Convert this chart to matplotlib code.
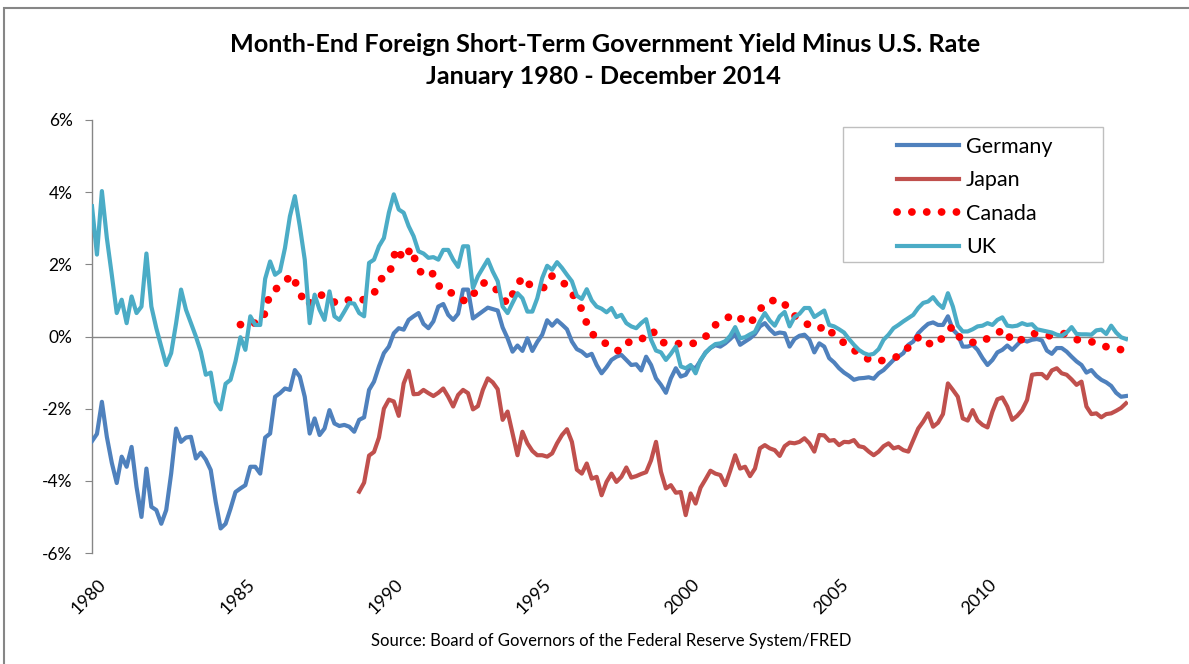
import numpy as np
import matplotlib
matplotlib.use('Agg')
import matplotlib.pyplot as plt
from matplotlib.patches import Rectangle
import matplotlib.transforms as mtransforms

plt.rcParams['font.family'] = ['Lato', 'DejaVu Sans']

# ---- data (percentage points), bi-monthly for lines, quarterly for Canada ----
germany_start = 1980
germany = [
    -2.9, -2.7, -1.81, -2.78, -3.5, -4.06,      # 1980
    -3.33, -3.61, -3.06, -4.17, -5.0, -3.66,    # 1981
    -4.72, -4.81, -5.19, -4.81, -3.8, -2.55,    # 1982
    -2.92, -2.8, -2.78, -3.38, -3.22, -3.41,    # 1983
    -3.7, -4.58, -5.32, -5.19, -4.77, -4.31,    # 1984
    -4.21, -4.12, -3.61, -3.61, -3.8, -2.8,     # 1985
    -2.69, -1.67, -1.57, -1.44, -1.48, -0.93,   # 1986
    -1.11, -1.67, -2.69, -2.27, -2.73, -2.55,   # 1987
    -2.04, -2.41, -2.48, -2.45, -2.5, -2.64,    # 1988
    -2.31, -2.24, -1.48, -1.25, -0.83, -0.46,   # 1989
    -0.28, 0.09, 0.23, 0.19, 0.46, 0.56,        # 1990
    0.65, 0.35, 0.23, 0.42, 0.83, 0.9,          # 1991
    0.6, 0.46, 0.63, 1.3, 1.3, 0.5,             # 1992
    0.6, 0.7, 0.8, 0.76, 0.72, 0.25,            # 1993
    -0.05, -0.42, -0.25, -0.4, -0.05, -0.4,     # 1994
    -0.15, 0.05, 0.45, 0.3, 0.45, 0.33,         # 1995
    0.2, -0.14, -0.35, -0.42, -0.54, -0.48,     # 1996
    -0.79, -1.02, -0.85, -0.65, -0.56, -0.51,   # 1997
    -0.65, -0.79, -0.77, -0.94, -0.56, -0.79,   # 1998
    -1.16, -1.34, -1.56, -1.16, -0.88, -1.11,   # 1999
    -1.06, -0.83, -0.88, -0.67, -0.44, -0.32,   # 2000
    -0.24, -0.28, -0.19, -0.07, 0.07, -0.23,    # 2001
    -0.14, -0.05, 0.07, 0.28, 0.37, 0.2,        # 2002
    0.07, 0.11, 0.09, -0.28, -0.07, 0.02,       # 2003
    0.05, -0.09, -0.44, -0.19, -0.28, -0.6,     # 2004
    -0.72, -0.88, -1.0, -1.09, -1.2, -1.16,     # 2005
    -1.15, -1.13, -1.17, -1.02, -0.93, -0.79,   # 2006
    -0.65, -0.56, -0.46, -0.23, -0.14, 0.09,    # 2007
    0.23, 0.35, 0.39, 0.32, 0.32, 0.56,         # 2008
    0.19, 0.05, -0.28, -0.28, -0.23, -0.37,     # 2009
    -0.6, -0.79, -0.65, -0.44, -0.37, -0.25,    # 2010
    -0.37, -0.23, -0.09, -0.14, -0.09, -0.07,   # 2011
    -0.11, -0.39, -0.48, -0.32, -0.32, -0.42,   # 2012
    -0.56, -0.69, -0.79, -1.0, -0.93, -1.09,    # 2013
    -1.2, -1.27, -1.37, -1.56, -1.67, -1.65,    # 2014
]

japan_start = 1989
japan = [
    -4.3, -4.05, -3.3, -3.2, -2.8, -2.0,        # 1989
    -1.75, -1.8, -2.2, -1.3, -0.95, -1.6,       # 1990
    -1.59, -1.48, -1.57, -1.65, -1.56, -1.44,   # 1991
    -1.67, -1.94, -1.62, -1.48, -1.57, -2.02,   # 1992
    -1.93, -1.48, -1.16, -1.27, -1.46, -2.31,   # 1993
    -2.08, -2.69, -3.29, -2.64, -2.96, -3.17,   # 1994
    -3.29, -3.29, -3.33, -3.24, -2.96, -2.73,   # 1995
    -2.57, -2.92, -3.69, -3.80, -3.52, -3.94,   # 1996
    -3.89, -4.40, -4.03, -3.80, -4.03, -3.89,   # 1997
    -3.63, -3.91, -3.87, -3.81, -3.76, -3.43,   # 1998
    -2.92, -3.75, -4.21, -4.12, -4.33, -4.31,   # 1999
    -4.95, -4.35, -4.63, -4.19, -3.96, -3.72,   # 2000
    -3.80, -3.84, -4.12, -3.72, -3.29, -3.66,   # 2001
    -3.61, -3.87, -3.66, -3.10, -3.01, -3.10,   # 2002
    -3.15, -3.31, -3.04, -2.94, -2.96, -2.92,   # 2003
    -2.82, -2.96, -3.19, -2.73, -2.74, -2.89,   # 2004
    -2.87, -3.01, -2.92, -2.93, -2.87, -3.04,   # 2005
    -3.07, -3.19, -3.29, -3.19, -3.04, -2.96,   # 2006
    -3.10, -3.06, -3.15, -3.19, -2.87, -2.55,   # 2007
    -2.36, -2.13, -2.5, -2.39, -2.15, -1.3,     # 2008
    -1.48, -1.67, -2.27, -2.33, -2.04, -2.33,   # 2009
    -2.45, -2.52, -2.08, -1.74, -1.69, -1.94,   # 2010
    -2.31, -2.2, -2.04, -1.76, -1.06, -1.04,    # 2011
    -1.04, -1.16, -0.94, -0.88, -1.02, -1.06,   # 2012
    -1.19, -1.34, -1.25, -1.94, -2.15, -2.13,   # 2013
    -2.24, -2.15, -2.13, -2.06, -1.98, -1.85,   # 2014
]

canada_start = 1985
canada = [
    0.33, 0.29, 0.38, 0.45,     # 1985
    1.2, 1.35, 1.53, 1.71,      # 1986
    1.2, 0.85, 1.1, 1.15,       # 1987
    1.0, 0.93, 1.02, 1.0,       # 1988
    1.02, 1.02, 1.2, 1.6,       # 1989
    1.68, 2.45, 2.14, 2.45,     # 1990
    1.85, 1.65, 1.75, 1.3,      # 1991
    1.25, 1.15, 1.0, 1.0,       # 1992
    1.4, 1.5, 1.42, 1.17,       # 1993
    0.9, 1.3, 1.65, 1.43,       # 1994
    1.4, 1.35, 1.68, 1.58,      # 1995
    1.4, 1.1, 0.75, 0.17,       # 1996
    -0.05, -0.16, -0.32, -0.4,  # 1997
    -0.16, -0.16, -0.1, 0.15,   # 1998
    0.1, -0.17, -0.19, -0.2,    # 1999
    -0.16, -0.19, -0.1, 0.05,   # 2000
    0.32, 0.45, 0.56, 0.6,      # 2001
    0.35, 0.45, 0.75, 0.98,     # 2002
    1.0, 1.0, 0.7, 0.52,        # 2003
    0.4, 0.25, 0.22, 0.3,       # 2004
    0.02, -0.12, -0.3, -0.42,   # 2005
    -0.55, -0.68, -0.68, -0.65, # 2006
    -0.6, -0.51, -0.3, -0.05,   # 2007
    0.0, -0.23, -0.2, 0.1,      # 2008
    0.28, -0.05, -0.12, -0.18,  # 2009
    -0.15, 0.0, 0.1, 0.2,       # 2010
    -0.15, -0.1, -0.05, 0.08,   # 2011
    0.05, 0.02, 0.05, 0.08,     # 2012
    -0.05, -0.1, -0.12, -0.16,  # 2013
    -0.25, -0.3, -0.35, -0.37,  # 2014
]

uk_start = 1980
uk = [
    3.61, 2.27, 4.03, 2.73, 1.71, 0.65,         # 1980
    1.02, 0.37, 1.11, 0.65, 0.83, 2.30,         # 1981
    0.83, 0.23, -0.28, -0.79, -0.46, 0.37,      # 1982
    1.30, 0.74, 0.37, 0.0, -0.42, -1.06,        # 1983
    -1.0, -1.81, -2.02, -1.31, -1.2, -0.69,     # 1984
    -0.02, -0.37, 0.56, 0.32, 0.32, 1.6,        # 1985
    2.08, 1.71, 1.81, 2.45, 3.33, 3.89,         # 1986
    3.06, 2.13, 0.37, 1.16, 0.74, 0.46,         # 1987
    1.25, 0.56, 0.46, 0.69, 0.93, 0.91,         # 1988
    0.65, 0.56, 2.04, 2.13, 2.5, 2.73,          # 1989
    3.43, 3.94, 3.52, 3.43, 3.06, 2.78,         # 1990
    2.36, 2.30, 2.18, 2.20, 2.13, 2.4,          # 1991
    2.4, 2.13, 1.93, 2.5, 2.5, 1.34,            # 1992
    1.67, 1.9, 2.13, 1.8, 1.53, 0.83,           # 1993
    0.65, 0.93, 1.2, 1.06, 0.69, 0.69,          # 1994
    1.06, 1.62, 1.96, 1.85, 2.06, 1.9,          # 1995
    1.71, 1.53, 1.13, 1.04, 1.31, 1.0,          # 1996
    0.83, 0.77, 0.67, 0.79, 0.54, 0.6,          # 1997
    0.37, 0.28, 0.23, 0.37, 0.48, -0.09,        # 1998
    -0.39, -0.44, -0.65, -0.48, -0.28, -0.83,   # 1999
    -0.88, -0.79, -1.02, -0.65, -0.46, -0.31,   # 2000
    -0.21, -0.19, -0.13, 0.02, 0.26, -0.05,     # 2001
    -0.02, 0.06, 0.13, 0.42, 0.65, 0.44,        # 2002
    0.3, 0.56, 0.68, 0.28, 0.54, 0.63,          # 2003
    0.79, 0.79, 0.54, 0.63, 0.72, 0.32,         # 2004
    0.28, 0.2, 0.11, -0.07, -0.23, -0.37,       # 2005
    -0.46, -0.51, -0.48, -0.35, -0.09, 0.05,    # 2006
    0.23, 0.32, 0.42, 0.51, 0.6, 0.79,          # 2007
    0.93, 0.97, 1.09, 0.91, 0.79, 1.2,          # 2008
    0.83, 0.30, 0.14, 0.14, 0.2, 0.28,          # 2009
    0.3, 0.37, 0.32, 0.46, 0.53, 0.3,           # 2010
    0.28, 0.3, 0.37, 0.32, 0.34, 0.2,           # 2011
    0.17, 0.14, 0.11, 0.05, 0.02, 0.11,         # 2012
    0.26, 0.07, 0.06, 0.06, 0.05, 0.17,         # 2013
    0.19, 0.07, 0.3, 0.11, -0.02, -0.07,        # 2014
]

series_names = ['Germany', 'Japan', 'Canada', 'UK']
y_ticks = [-6, -4, -2, 0, 2, 4, 6]
x_ticks = [1980, 1985, 1990, 1995, 2000, 2005, 2010]
title_lines = ['Month-End Foreign Short-Term Government Yield Minus U.S. Rate',
               'January 1980 - December 2014']
source_text = 'Source: Board of Governors of the Federal Reserve System/FRED'

# time axes derived from sampling frequency
t_g = germany_start + np.arange(len(germany)) / 6.0
t_j = japan_start + np.arange(len(japan)) / 6.0
t_c = canada_start + np.arange(len(canada)) / 4.0
t_u = uk_start + np.arange(len(uk)) / 6.0

W, H = 1189, 664
fig = plt.figure(figsize=(W / 100, H / 100), dpi=100)
fx = lambda px: px / W
fy = lambda py: 1 - py / H

ax = fig.add_axes([fx(92), fy(553), fx(1128) - fx(92), fy(120) - fy(553)])

ax.axhline(0, color='#868686', lw=1.0, zorder=1)
ax.plot(t_g, germany, color='#4F81BD', lw=3.0, label=series_names[0], zorder=3)
ax.plot(t_j, japan, color='#C0504D', lw=3.0, label=series_names[1], zorder=3)
ax.plot(t_c, canada, color='#FF0000', lw=5.6, linestyle=(0, (0.01, 1.9)),
        dash_capstyle='round', label=series_names[2], zorder=4)
ax.plot(t_u, uk, color='#4BACC6', lw=3.0, label=series_names[3], zorder=5)

ax.set_xlim(1980, 2014.9)
ax.set_ylim(-6, 6)
ax.set_yticks(y_ticks)
ax.set_yticklabels([f'{v}%' for v in y_ticks])
ax.set_xticks(x_ticks)
ax.set_xticklabels([str(v) for v in x_ticks], rotation=45, ha='right',
                   rotation_mode='anchor')

for s in ['top', 'right', 'bottom']:
    ax.spines[s].set_visible(False)
ax.spines['left'].set_color('#868686')
ax.spines['left'].set_linewidth(1.0)
ax.tick_params(axis='y', direction='out', length=5, color='#868686',
               labelsize=12.5, pad=9, labelcolor='black')
ax.tick_params(axis='x', length=0, labelsize=13, pad=17, labelcolor='black')
offset = mtransforms.ScaledTranslation(6 / 100, 0, fig.dpi_scale_trans)
for lab in ax.get_xticklabels():
    lab.set_transform(lab.get_transform() + offset)

# legend
handles, labels = ax.get_legend_handles_labels()
fs = 15.5
fpx = fs * 100 / 72
leg = fig.legend(handles, labels, loc='upper left',
                 bbox_to_anchor=(fx(897), fy(137)), bbox_transform=fig.transFigure,
                 frameon=False, borderpad=0, borderaxespad=0, fontsize=fs,
                 handlelength=62 / fpx, handletextpad=7 / fpx, labelspacing=0.62)
fig.add_artist(Rectangle((fx(843), fy(262)), fx(1103) - fx(843), fy(127) - fy(262),
                         transform=fig.transFigure, fill=False,
                         edgecolor='#BFBFBF', lw=1.0))

# titles
fig.text(fx(605), fy(45), title_lines[0], ha='center', va='center',
         fontsize=18.2, fontweight='bold')
fig.text(fx(603), fy(76), title_lines[1], ha='center', va='center',
         fontsize=18.2, fontweight='bold')
fig.text(fx(611), fy(641), source_text, ha='center', va='center', fontsize=12)

# outer chart border (right and bottom edges fall outside the captured area)
fig.add_artist(Rectangle((fx(3.5), fy(700)), fx(1230) - fx(3.5), fy(8) - fy(700),
                         transform=fig.transFigure, fill=False,
                         edgecolor='#868686', lw=1.5))

fig.savefig('out.png', dpi=100)
